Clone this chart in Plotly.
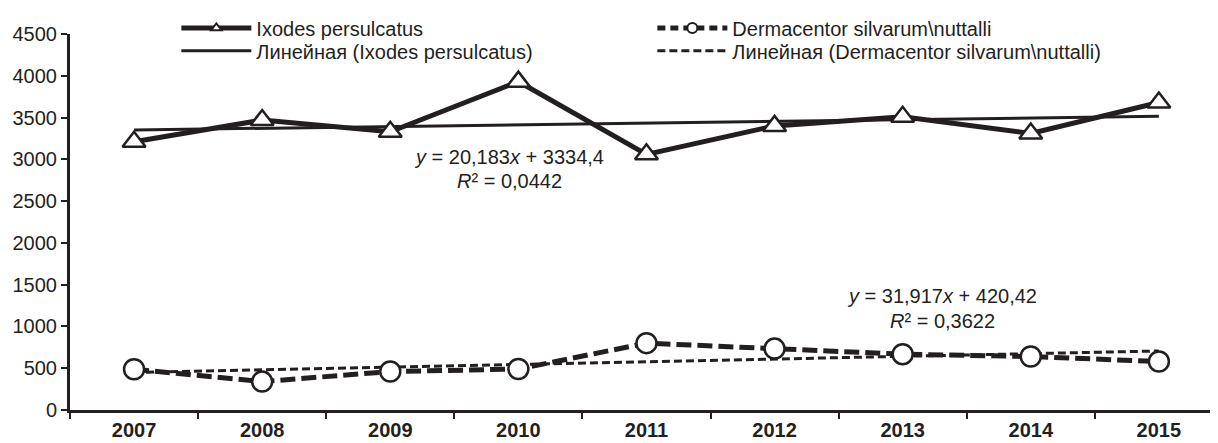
import numpy as np
import plotly.graph_objects as go

years = ["2007", "2008", "2009", "2010", "2011", "2012", "2013", "2014", "2015"]
ixodes = [3210, 3470, 3330, 3930, 3060, 3400, 3510, 3310, 3680]
dermacentor = [487, 340, 460, 490, 800, 735, 668, 640, 580]

name_ix = "Ixodes persulcatus"
name_de = "Dermacentor silvarum\\nuttalli"
name_lix = "Линейная (Ixodes persulcatus)"
name_lde = "Линейная (Dermacentor silvarum\\nuttalli)"

eq_ix = ["<i>y</i> = 20,183<i>x</i> + 3334,4", "<i>R</i>² = 0,0442"]
eq_de = ["<i>y</i> = 31,917<i>x</i> + 420,42", "<i>R</i>² = 0,3622"]

INK = "#231f20"
FONT = "Liberation Sans, Arial, sans-serif"
FS = 20

xi = np.arange(1, len(years) + 1)
k_ix, b_ix = np.polyfit(xi, ixodes, 1)
k_de, b_de = np.polyfit(xi, dermacentor, 1)
trend_ix = k_ix * xi + b_ix
trend_de = k_de * xi + b_de

fig = go.Figure()

fig.add_trace(go.Scatter(x=years, y=trend_ix, mode="lines", showlegend=False,
                         line=dict(color=INK, width=3)))
fig.add_trace(go.Scatter(x=years, y=trend_de, mode="lines", showlegend=False,
                         line=dict(color=INK, width=3, dash="8px,4px")))
fig.add_trace(go.Scatter(x=years, y=ixodes, mode="lines+markers", showlegend=False,
                         line=dict(color=INK, width=5),
                         marker=dict(symbol="triangle-up", size=20, color="white",
                                     line=dict(color=INK, width=2.5))))
fig.add_trace(go.Scatter(x=years, y=dermacentor, mode="lines+markers", showlegend=False,
                         line=dict(color=INK, width=5, dash="15px,6px"),
                         marker=dict(symbol="circle", size=20, color="white",
                                     line=dict(color=INK, width=2.5))))

# legend proxies: row 1 in "legend", row 2 in "legend2"
fig.add_trace(go.Scatter(x=[None], y=[None], mode="lines+markers", name=name_ix,
                         legend="legend",
                         line=dict(color=INK, width=5),
                         marker=dict(symbol="triangle-up", size=9, color="white",
                                     line=dict(color=INK, width=2))))
fig.add_trace(go.Scatter(x=[None], y=[None], mode="lines+markers", name=name_de,
                         legend="legend",
                         line=dict(color=INK, width=5, dash="8px,5px"),
                         marker=dict(symbol="circle", size=10, color="white",
                                     line=dict(color=INK, width=2))))
fig.add_trace(go.Scatter(x=[None], y=[None], mode="lines", name=name_lix,
                         legend="legend2",
                         line=dict(color=INK, width=3)))
fig.add_trace(go.Scatter(x=[None], y=[None], mode="lines", name=name_lde,
                         legend="legend2",
                         line=dict(color=INK, width=3, dash="8px,4px")))

ann_font = dict(family=FONT, size=FS, color=INK)
for txt, xv, yv in [(eq_ix[0], 2.93, 3025), (eq_ix[1], 2.93, 2745),
                    (eq_de[0], 6.31, 1360), (eq_de[1], 6.31, 1070)]:
    fig.add_annotation(x=xv, y=yv, xref="x", yref="y", text=txt, showarrow=False,
                       font=ann_font, xanchor="center", yanchor="middle")

legend_common = dict(orientation="h", x=0.092, xanchor="left", yanchor="top",
                     itemwidth=70, entrywidth=391, entrywidthmode="pixels",
                     font=dict(family=FONT, size=FS, color=INK),
                     bgcolor="rgba(0,0,0,0)", traceorder="normal")

fig.update_layout(
    width=1218, height=443,
    margin=dict(l=62, r=0, t=26, b=41),
    paper_bgcolor="white", plot_bgcolor="white",
    font=dict(family=FONT, size=FS, color=INK),
    showlegend=True,
    legend=dict(legend_common, y=1.068),
    legend2=dict(legend_common, y=1.007),
    xaxis=dict(type="category", categoryorder="array", categoryarray=years,
               range=[-0.5, 8.524], showgrid=False, zeroline=False,
               showline=True, linecolor=INK, linewidth=3,
               ticks="outside", tickson="boundaries", ticklen=6, tickwidth=2,
               tickcolor=INK,
               tickfont=dict(family=FONT, size=FS, color=INK, weight="bold")),
    yaxis=dict(range=[0, 4500], dtick=500, showgrid=False, zeroline=False,
               showline=True, linecolor=INK, linewidth=3,
               ticks="outside", ticklen=6, tickwidth=2, tickcolor=INK,
               ticklabelstandoff=0,
               tickfont=dict(family=FONT, size=FS, color=INK)),
)

fig.write_html("out.html")
